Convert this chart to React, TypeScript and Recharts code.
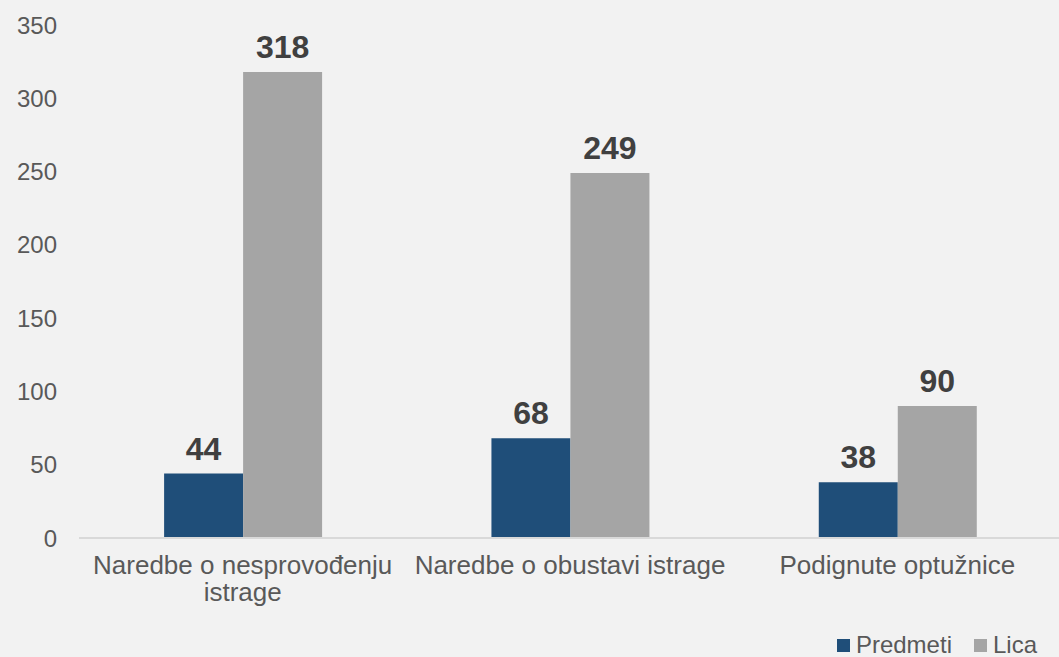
import { BarChart, Bar, XAxis, YAxis, Legend, LabelList } from "recharts";

const categories = [
    "Naredbe o nesprovođenju\nistrage",
    "Naredbe o obustavi istrage",
    "Podignute optužnice",
];
const predmeti = [44, 68, 38];
const lica = [318, 249, 90];
const yTicks = [0, 50, 100, 150, 200, 250, 300, 350];
const series = [
    { key: "predmeti", name: "Predmeti", color: "#1f4e79" },
    { key: "lica", name: "Lica", color: "#a5a5a5" },
];

const data = categories.map((name, i) => ({ name, predmeti: predmeti[i], lica: lica[i] }));

const FONT = "'Liberation Sans', Arial, sans-serif";
const TEXT = "#595959";

const CategoryTick = (props: any) => {
    const { x, y, payload } = props;
    const lines = String(payload.value).split("\n");
    return (
        <text x={x} y={y} textAnchor="middle" fill={TEXT} fontSize={26} fontFamily={FONT}>
            {lines.map((line, i) => (
                <tspan key={i} x={x} dy={i === 0 ? 28 : 27}>
                    {line}
                </tspan>
            ))}
        </text>
    );
};

// legend laid out like the excel one: fixed height, items pushed to the right
const LegendContent = () => (
    <div style={{ height: 28, lineHeight: "24px", display: "flex", justifyContent: "flex-end", alignItems: "center", paddingRight: 24, fontSize: 24, fontFamily: FONT, color: TEXT, transform: "translateY(2px)" }}>
        {series.map((s, i) => (
            <span key={s.key} style={{ display: "flex", alignItems: "center", marginLeft: i === 0 ? 0 : 22 }}>
                <span style={{ display: "inline-block", width: 13, height: 13, background: s.color, marginRight: 6 }} />
                {s.name}
            </span>
        ))}
    </div>
);

export default function App() {
    return (
        <div style={{ position: "absolute", left: 0, top: 0, width: 1059, height: 657, background: "#f2f2f2" }}>
            <BarChart
                width={1059}
                height={657}
                data={data}
                margin={{ top: 25, right: -2, left: 0, bottom: 0 }}
                barCategoryGap="26%"
                barGap={0}
                style={{ fontFamily: FONT }}
            >
                <XAxis
                    dataKey="name"
                    axisLine={{ stroke: "#d9d9d9", strokeWidth: 2 }}
                    tickLine={false}
                    interval={0}
                    height={91}
                    tick={<CategoryTick />}
                />
                <YAxis
                    domain={[0, 350]}
                    ticks={yTicks}
                    axisLine={false}
                    tickLine={false}
                    width={79}
                    tickMargin={16}
                    tick={{ fill: TEXT, fontSize: 24, fontFamily: FONT }}
                />
                <Legend verticalAlign="bottom" align="right" content={<LegendContent />} wrapperStyle={{ bottom: 0 }} />
                {series.map((s) => (
                    <Bar key={s.key} dataKey={s.key} name={s.name} fill={s.color} isAnimationActive={false}>
                        <LabelList dataKey={s.key} position="top" offset={14} fill="#404040" fontSize={32} fontWeight="bold" fontFamily={FONT} />
                    </Bar>
                ))}
            </BarChart>
        </div>
    );
}
